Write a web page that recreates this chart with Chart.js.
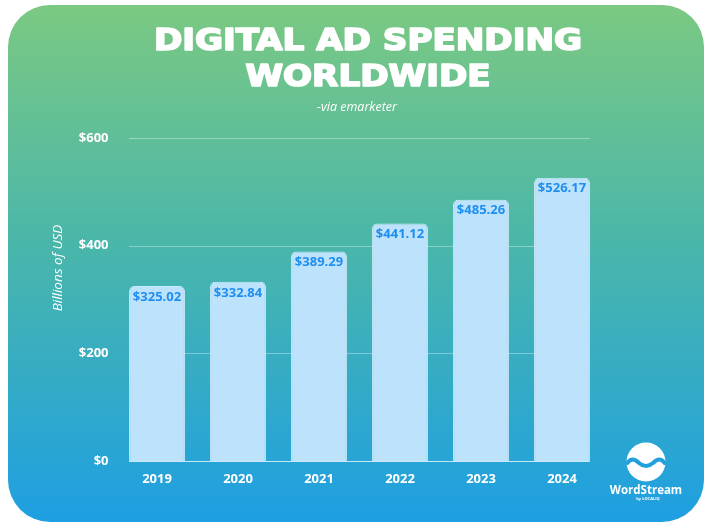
<!DOCTYPE html>
<html>
<head>
<meta charset="utf-8">
<script src="https://cdn.jsdelivr.net/npm/chart.js@4"></script>
<style>
  html, body { margin: 0; padding: 0; background: #fff; }
  #wrap { width: 712px; height: 529px; }
</style>
</head>
<body>
<div id="wrap"><canvas id="myChart"></canvas></div>
<script>
// DATA
const years = ["2019", "2020", "2021", "2022", "2023", "2024"];
const spending = [325.02, 332.84, 389.29, 441.12, 485.26, 526.17];
const yTicks = [0, 200, 400, 600];

// BACKGROUND CARD
const cardBg = {
  id: "cardBg",
  beforeDraw(chart) {
    const c = chart.ctx;
    const x = 8, y = 5, w = 696, h = 517, r = 42;
    const g = c.createLinearGradient(0, y, 0, y + h);
    g.addColorStop(0, "#7bc982");
    g.addColorStop(0.45, "#4bb7a9");
    g.addColorStop(1, "#1e9fe2");
    c.save();
    c.beginPath();
    c.roundRect(x, y, w, h, r);
    c.fillStyle = g;
    c.fill();
    c.restore();
  }
};

// TITLE, SUBTITLE, AXIS TITLE
const headings = {
  id: "headings",
  afterDraw(chart) {
    const c = chart.ctx;
    c.save();
    c.fillStyle = "#fff";
    c.strokeStyle = "#fff";
    c.lineJoin = "round";
    c.textAlign = "center";
    c.textBaseline = "alphabetic";
    // heavy condensed title: cap height ~23px, first line ~430px wide
    c.font = "bold 31px 'DejaVu Sans Condensed'";
    const w1 = c.measureText("DIGITAL AD SPENDING").width;
    const sx = 428 / w1;
    c.save();
    c.translate(368, 0);
    c.scale(sx, 1);
    c.lineWidth = 1.6;
    c.fillText("DIGITAL AD SPENDING", 0, 50);
    c.strokeText("DIGITAL AD SPENDING", 0, 50);
    c.fillText("WORLDWIDE", 0, 86);
    c.strokeText("WORLDWIDE", 0, 86);
    c.restore();

    c.font = "italic 12.5px 'Open Sans'";
    c.textBaseline = "middle";
    c.fillText("-via emarketer", 357, 107);

    c.save();
    c.translate(58, 268);
    c.rotate(-Math.PI / 2);
    c.font = "italic 13.5px 'Open Sans'";
    c.fillText("Billions of USD", 0, 0);
    c.restore();
    c.restore();
  }
};

// GRID LINES (only across the bars)
const gridLines = {
  id: "gridLines",
  beforeDatasetsDraw(chart) {
    const c = chart.ctx;
    const ys = chart.scales.y;
    const bars = chart.getDatasetMeta(0).data;
    const left = bars[0].x - bars[0].width / 2;
    const right = bars[bars.length - 1].x + bars[bars.length - 1].width / 2;
    c.save();
    yTicks.forEach(function (v) {
      const py = Math.round(ys.getPixelForValue(v)) + 0.5;
      c.strokeStyle = v === 0 ? "rgba(255,255,255,0.75)" : "rgba(255,255,255,0.35)";
      c.lineWidth = 1;
      c.beginPath();
      c.moveTo(left, py);
      c.lineTo(right, py);
      c.stroke();
    });
    c.restore();
  }
};

// VALUE LABELS
const valueLabels = {
  id: "valueLabels",
  afterDatasetsDraw(chart) {
    const c = chart.ctx;
    const bars = chart.getDatasetMeta(0).data;
    c.save();
    c.fillStyle = "#1e8ff0";
    c.font = "bold 13px 'Open Sans'";
    c.textAlign = "center";
    c.textBaseline = "middle";
    bars.forEach(function (bar, i) {
      c.fillText("$" + spending[i].toFixed(2), bar.x, bar.y + 11);
    });
    c.restore();
  }
};

// LOGO
const logo = {
  id: "logo",
  afterDraw(chart) {
    const c = chart.ctx;
    const cx = 646, cy = 462, r = 19.5;
    c.save();
    c.fillStyle = "#fff";
    c.beginPath();
    c.arc(cx, cy, r, 0, Math.PI * 2);
    c.fill();
    c.strokeStyle = "#22a0de";
    c.lineWidth = 4;
    c.lineCap = "round";
    c.beginPath();
    c.moveTo(cx - r + 1, cy + 1);
    c.quadraticCurveTo(cx - 14, cy - 6, cx - 7, cy + 1);
    c.quadraticCurveTo(cx, cy + 7, cx + 7, cy + 1);
    c.quadraticCurveTo(cx + 14, cy - 6, cx + r - 1, cy + 1);
    c.stroke();
    c.fillStyle = "#fff";
    c.font = "bold 11.5px 'Open Sans'";
    c.textAlign = "center";
    c.textBaseline = "middle";
    c.fillText("WordStream", cx, 491);
    c.font = "bold 4px 'Open Sans'";
    c.fillText("by LOCALIQ", cx + 2, 499);
    c.restore();
  }
};

const ctx = document.getElementById("myChart");

new Chart(ctx, {
  type: "bar",
  data: {
    labels: years,
    datasets: [
      {
        data: spending,
        backgroundColor: "#bce2fc",
        borderColor: "rgba(220,240,255,0.9)",
        borderWidth: 1,
        borderSkipped: "bottom",
        borderRadius: { topLeft: 5, topRight: 5, bottomLeft: 0, bottomRight: 0 },
        barPercentage: 0.69,
        categoryPercentage: 1.0
      }
    ]
  },
  options: {
    responsive: true,
    maintainAspectRatio: false,
    animation: false,
    devicePixelRatio: 1,
    layout: { padding: { left: 0, right: 109.5, top: 138, bottom: 40 } },
    plugins: {
      legend: { display: false },
      tooltip: { enabled: false },
      title: { display: false }
    },
    scales: {
      x: {
        grid: { display: false },
        border: { display: false },
        ticks: {
          color: "#fff",
          font: { family: "'Open Sans'", size: 13, weight: "bold" },
          padding: 2
        },
        afterFit(scale) { scale.height = 28; }
      },
      y: {
        min: 0,
        max: 600,
        afterBuildTicks(scale) {
          scale.ticks = yTicks.map(function (v) { return { value: v }; });
        },
        grid: { display: false },
        border: { display: false },
        ticks: {
          color: "#fff",
          font: { family: "'Open Sans'", size: 13, weight: "bold" },
          padding: 0,
          callback: function (v) { return "$" + v; }
        },
        afterFit(scale) { scale.width = 116.5; }
      }
    }
  },
  plugins: [cardBg, gridLines, valueLabels, headings, logo]
});
</script>
</body>
</html>
